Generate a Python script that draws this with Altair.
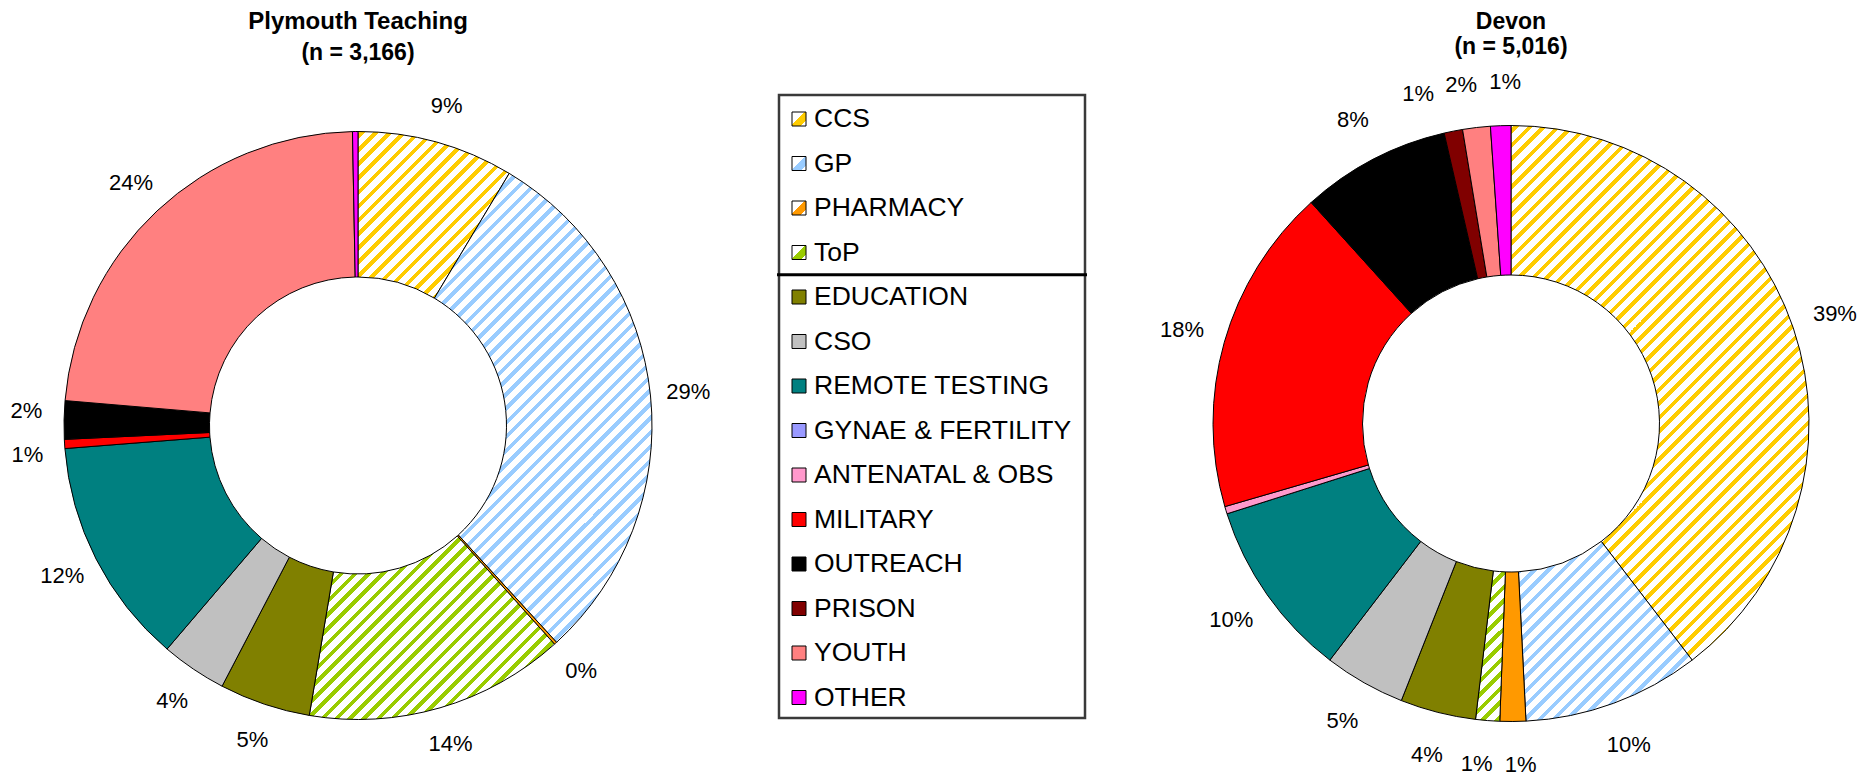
import math
import altair as alt

# ---------------- data ----------------
categories = ["CCS", "GP", "PHARMACY", "ToP", "EDUCATION", "CSO", "REMOTE TESTING",
              "GYNAE & FERTILITY", "ANTENATAL & OBS", "MILITARY", "OUTREACH", "PRISON",
              "YOUTH", "OTHER"]
colors = ["#FFCC00", "#99CCFF", "#FF9900", "#99CC00", "#808000", "#C0C0C0", "#008080",
          "#9999FF", "#FF99CC", "#FF0000", "#000000", "#800000", "#FF8080", "#FF00FF"]
hatched_slices = ["CCS", "GP", "ToP"]
hatched_swatches = ["CCS", "GP", "PHARMACY", "ToP"]

plymouth_cats = ["CCS", "GP", "PHARMACY", "ToP", "EDUCATION", "CSO", "REMOTE TESTING",
                 "MILITARY", "OUTREACH", "YOUTH", "OTHER"]
plymouth_vals = [8.6, 29.6, 0.15, 14.3, 5.0, 3.6, 12.5, 0.5, 2.1, 23.35, 0.3]
plymouth_labels = ["9%", "29%", "0%", "14%", "5%", "4%", "12%", "1%", "2%", "24%", ""]

devon_cats = ["CCS", "GP", "PHARMACY", "ToP", "EDUCATION", "CSO", "REMOTE TESTING",
              "ANTENATAL & OBS", "MILITARY", "OUTREACH", "PRISON", "YOUTH", "OTHER"]
devon_vals = [39.6, 9.6, 1.4, 1.3, 4.1, 4.4, 9.7, 0.4, 17.8, 8.1, 1.0, 1.5, 1.1]
devon_labels = ["39%", "10%", "1%", "1%", "4%", "5%", "10%", "", "18%", "8%", "1%", "2%", "1%"]

plymouth_title = ["Plymouth Teaching", "(n = 3,166)"]
devon_title = ["Devon", "(n = 5,016)"]

FONT = "Liberation Sans"
color_of = dict(zip(categories, colors))

# ---------------- helpers ----------------
def stripe_gradient(color, bx, by, w, h, period=14.0, frac=0.42):
    """'/' diagonal stripes with constant pixel period inside a bbox (objectBoundingBox units)."""
    L = w + h
    a = L * w / (w * w + h * h)
    b = L * h / (w * w + h * h)
    d0 = bx + by

    def col_at(D):
        return color if (D % period) < frac * period else "#FFFFFF"

    bounds = []
    k = math.floor(d0 / period) - 1
    while k * period < d0 + L + period:
        for e in (k * period, k * period + frac * period):
            if d0 < e < d0 + L:
                bounds.append(e)
        k += 1
    bounds.sort()
    stops = [{"offset": 0, "color": col_at(d0 + 1e-6)}]
    for e in bounds:
        t = round((e - d0) / L, 5)
        stops.append({"offset": t, "color": col_at(e - 1e-6)})
        stops.append({"offset": t, "color": col_at(e + 1e-6)})
    stops.append({"offset": 1, "color": col_at(d0 + L - 1e-6)})
    return {"gradient": "linear", "x1": 0, "y1": 0, "x2": a, "y2": b, "stops": stops}


def arc_bbox(cx, cy, r0, r1, a0, a1):
    pts = []
    for ang in (a0, a1):
        for rr in (r0, r1):
            pts.append((cx + rr * math.sin(ang), cy - rr * math.cos(ang)))
    for k in range(5):
        ang = k * math.pi / 2
        if a0 < ang < a1:
            pts.append((cx + r1 * math.sin(ang), cy - r1 * math.cos(ang)))
    xs = [p[0] for p in pts]
    ys = [p[1] for p in pts]
    return min(xs), min(ys), max(xs) - min(xs), max(ys) - min(ys)


def pie_layers(cats, vals, labels, title, cx, cy, R, r, R_lab, t1y, t2y, t1size):
    total = sum(vals)
    rows, labrows = [], []
    cum = 0.0
    for i, (c, v, lab) in enumerate(zip(cats, vals, labels)):
        a0 = cum / total * 2 * math.pi
        a1 = (cum + v) / total * 2 * math.pi
        if c in hatched_slices:
            bx, by, w, h = arc_bbox(cx, cy, r, R, a0, a1)
            fill = stripe_gradient(color_of[c], bx, by, w, h)
        else:
            fill = color_of[c]
        rows.append({"idx": i, "cat": c, "value": v, "grad": fill})
        if lab:
            labrows.append([(cum + v / 2) / total * 360.0, lab])
        cum += v
    # push apart labels that would collide (labels do not cross 12 o'clock)
    min_deg = 44.0 / R_lab * 180 / math.pi
    cap = max(359.0, labrows[-1][0])
    for _ in range(500):
        moved = False
        for j in range(len(labrows) - 1):
            gap = labrows[j + 1][0] - labrows[j][0]
            if gap < min_deg - 1e-6:
                d = (min_deg - gap) / 2
                labrows[j][0] -= d
                labrows[j + 1][0] += d
                moved = True
        if labrows[-1][0] > cap:
            labrows[-1][0] = cap
        if not moved:
            break
    labdata = [{"pos": p % 360, "lab": l} for p, l in labrows]

    arcs = alt.Chart(alt.Data(values=rows)).mark_arc(
        outerRadius=R, innerRadius=r, stroke="black", strokeWidth=1
    ).encode(
        theta=alt.Theta("value:Q", stack=True),
        order=alt.Order("idx:Q"),
        fill=alt.Fill("grad:N", scale=None),
        x=alt.value(cx), y=alt.value(cy),
    )
    labs = alt.Chart(alt.Data(values=labdata)).mark_text(
        radius=R_lab, fontSize=22, font=FONT, align="center", baseline="middle", color="black"
    ).encode(
        theta=alt.Theta("pos:Q", scale=alt.Scale(domain=[0, 360], range=[0, 2 * math.pi])),
        text="lab:N",
        x=alt.value(cx), y=alt.value(cy),
    )
    t1 = alt.Chart(alt.Data(values=[{"t": title[0]}])).mark_text(
        fontSize=t1size, fontWeight="bold", font=FONT, align="center", baseline="alphabetic"
    ).encode(text="t:N", x=alt.value(cx), y=alt.value(t1y))
    t2 = alt.Chart(alt.Data(values=[{"t": title[1]}])).mark_text(
        fontSize=23, fontWeight="bold", font=FONT, align="center", baseline="alphabetic"
    ).encode(text="t:N", x=alt.value(cx), y=alt.value(t2y))
    return [arcs, labs, t1, t2]


# ---------------- pies ----------------
left = pie_layers(plymouth_cats, plymouth_vals, plymouth_labels, plymouth_title,
                  cx=350, cy=417.5, R=294, r=148.5, R_lab=332, t1y=21, t2y=52, t1size=24)
right = pie_layers(devon_cats, devon_vals, devon_labels, devon_title,
                   cx=1503, cy=415.5, R=298, r=148.5, R_lab=342, t1y=21, t2y=46, t1size=23)

# ---------------- legend ----------------
leg_rows = []
for i, c in enumerate(categories):
    if c in hatched_swatches:
        sw = {"gradient": "linear", "x1": 0, "y1": 0, "x2": 1, "y2": 1,
              "stops": [{"offset": 0, "color": "#FFFFFF"}, {"offset": 0.45, "color": "#FFFFFF"},
                        {"offset": 0.45, "color": color_of[c]}, {"offset": 0.82, "color": color_of[c]},
                        {"offset": 0.82, "color": "#FFFFFF"}, {"offset": 1, "color": "#FFFFFF"}]}
    else:
        sw = color_of[c]
    leg_rows.append({"idx": i, "name": c, "sw": sw})

yscale = alt.Scale(domain=[0, len(categories) - 1], range=[111, 689.5])

box = alt.Chart(alt.Data(values=[{"k": 0}])).mark_rect(
    fill="white", fillOpacity=0, stroke="#3a3a3a", strokeWidth=2.5
).encode(x=alt.value(771), x2=alt.value(1077), y=alt.value(87), y2=alt.value(710))

divider = alt.Chart(alt.Data(values=[{"d": 3.5}])).mark_rule(
    color="black", strokeWidth=3
).encode(y=alt.Y("d:Q", scale=yscale, axis=None), x=alt.value(769), x2=alt.value(1079))

swatches = alt.Chart(alt.Data(values=leg_rows)).mark_square(
    size=196, stroke="black", strokeWidth=1, opacity=1, filled=True
).encode(
    y=alt.Y("idx:Q", scale=yscale, axis=None),
    x=alt.value(791),
    fill=alt.Fill("sw:N", scale=None),
)

leg_text = alt.Chart(alt.Data(values=leg_rows)).mark_text(
    fontSize=26.5, font=FONT, align="left", baseline="middle", color="black"
).encode(
    y=alt.Y("idx:Q", scale=yscale, axis=None),
    x=alt.value(806),
    text="name:N",
)

chart = alt.layer(
    *left, *right, box, divider, swatches, leg_text
).resolve_scale(
    theta="independent"
).properties(
    width=1859, height=772, padding=0,
    autosize=alt.AutoSizeParams(type="none"),
).configure_view(stroke=None)

chart.save("out.html", embed_options={"renderer": "svg", "actions": False})
